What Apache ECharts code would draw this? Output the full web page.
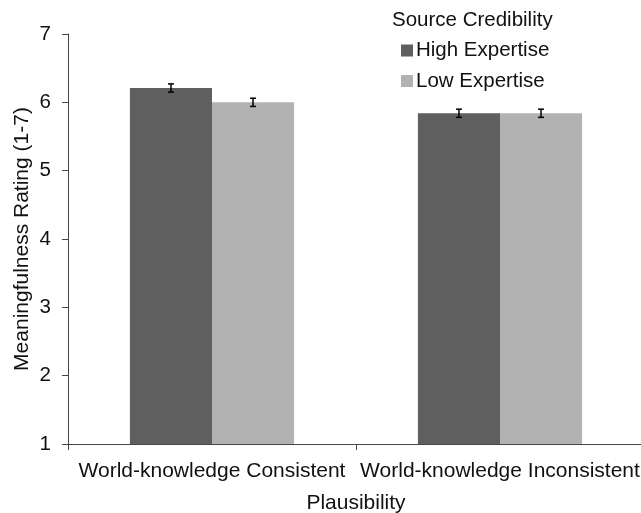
<!DOCTYPE html>
<html><head><meta charset="utf-8">
<script src="https://cdn.jsdelivr.net/npm/echarts@6/dist/echarts.min.js"></script>
<style>html,body{margin:0;padding:0;background:#fff}#c{width:641px;height:513px}</style>
</head><body><div id="c"></div>
<script>
var categories = ['World-knowledge Consistent', 'World-knowledge Inconsistent'];
var seriesNames = ['High Expertise', 'Low Expertise'];
var highValues = [6.21, 5.84];
var lowValues = [6.00, 5.84];
var highErr = [0.06, 0.06];
var lowErr = [0.06, 0.06];
var yTicks = [1, 2, 3, 4, 5, 6, 7];

var colors = ['#5f5f5f', '#b2b2b2'];
var font = 'Liberation Sans, Arial, sans-serif';

function errSeries(vals, errs, side) {
  return {
    type: 'custom',
    silent: true,
    z: 10,
    data: vals.map(function (v, i) { return [i, v, errs[i]]; }),
    renderItem: function (params, api) {
      var i = api.value(0), v = api.value(1), e = api.value(2);
      var band = api.size([1, 0])[0];
      var off = side * band * 0.285 / 2;
      var top = api.coord([i, v + e]);
      var bot = api.coord([i, v - e]);
      var x = top[0] + off;
      var cap = 3;
      var st = { stroke: '#000', lineWidth: 1.5 };
      return { type: 'group', children: [
        { type: 'line', shape: { x1: x, y1: top[1], x2: x, y2: bot[1] }, style: st },
        { type: 'line', shape: { x1: x - cap, y1: top[1], x2: x + cap, y2: top[1] }, style: st },
        { type: 'line', shape: { x1: x - cap, y1: bot[1], x2: x + cap, y2: bot[1] }, style: st }
      ]};
    }
  };
}

var chart = echarts.init(document.getElementById('c'));
chart.setOption({
  animation: false,
  textStyle: { fontFamily: font },
  title: {
    text: 'Source Credibility', left: 392, top: 10, padding: 0,
    textStyle: { fontFamily: font, fontSize: 20.5, fontWeight: 'normal', color: '#111' }
  },
  legend: {
    data: seriesNames, orient: 'vertical', left: 401, top: 40, padding: 0,
    icon: 'rect', itemWidth: 12, itemHeight: 12, itemGap: 9.5,
    textStyle: { fontFamily: font, fontSize: 20.5, lineHeight: 20.5, color: '#111', padding: [0, 0, 0, -2] }
  },
  grid: { left: 68, right: -3, top: 34, bottom: 69, containLabel: false, outerBoundsMode: 'none' },
  xAxis: {
    type: 'category', data: categories,
    name: 'Plausibility', nameLocation: 'middle', nameGap: 49, nameMoveOverlap: false,
    nameTextStyle: { fontFamily: font, fontSize: 21, color: '#111' },
    axisLine: { lineStyle: { color: '#444', width: 1 } },
    axisTick: { show: true, length: 6, lineStyle: { color: '#444' } },
    axisLabel: { fontFamily: font, fontSize: 21, color: '#111', margin: 16.5, interval: 0, hideOverlap: false }
  },
  yAxis: {
    type: 'value', min: 1, max: 7, interval: 1,
    name: 'Meaningfulness Rating (1-7)', nameLocation: 'middle', nameGap: 35, nameMoveOverlap: false,
    nameTextStyle: { fontFamily: font, fontSize: 21, color: '#111' },
    axisLine: { show: true, lineStyle: { color: '#444', width: 1 } },
    axisTick: { show: true, length: 6, lineStyle: { color: '#444' } },
    splitLine: { show: false },
    axisLabel: { fontFamily: font, fontSize: 20.5, color: '#111', margin: 17,
      formatter: function (v) { return yTicks.indexOf(v) >= 0 ? String(v) : ''; } }
  },
  series: [
    { name: seriesNames[0], type: 'bar', data: highValues, itemStyle: { color: colors[0] },
      barGap: '0%', barCategoryGap: '43%' },
    { name: seriesNames[1], type: 'bar', data: lowValues, itemStyle: { color: colors[1] },
      barGap: '0%', barCategoryGap: '43%' },
    errSeries(highValues, highErr, -1),
    errSeries(lowValues, lowErr, 1)
  ]
});
</script></body></html>
